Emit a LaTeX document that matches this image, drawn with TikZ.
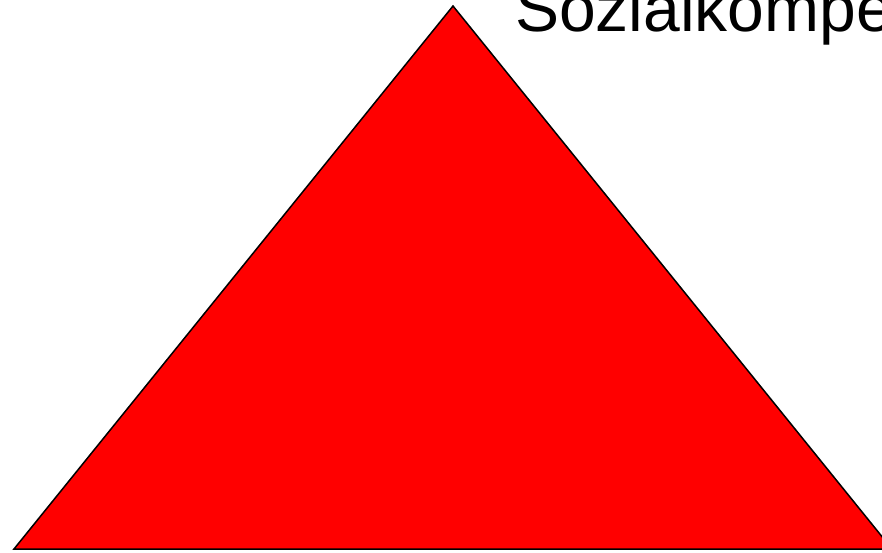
\documentclass[tikz,border=0pt]{standalone}
\usepackage{fontspec}
\setmainfont{Liberation Sans}
\begin{document}
\begin{tikzpicture}[x=1pt,y=-1pt,
  tri/.style={draw=black,fill=red,line width=1.5pt,line join=miter},
  lbl/.style={font=\fontsize{66}{78}\selectfont,inner sep=0pt,anchor=base west}]
\useasboundingbox (0,0) rectangle (882,553);
\clip (0,0) rectangle (882,553);
\coordinate (apex) at (453,6);
\coordinate (bl) at (14,549);
\coordinate (br) at (892,549);
\draw[tri] (apex) -- (bl) -- (br) -- cycle;
\node[lbl] (t) at (515,32) {Sozialkompetenz};
\end{tikzpicture}
\end{document}
